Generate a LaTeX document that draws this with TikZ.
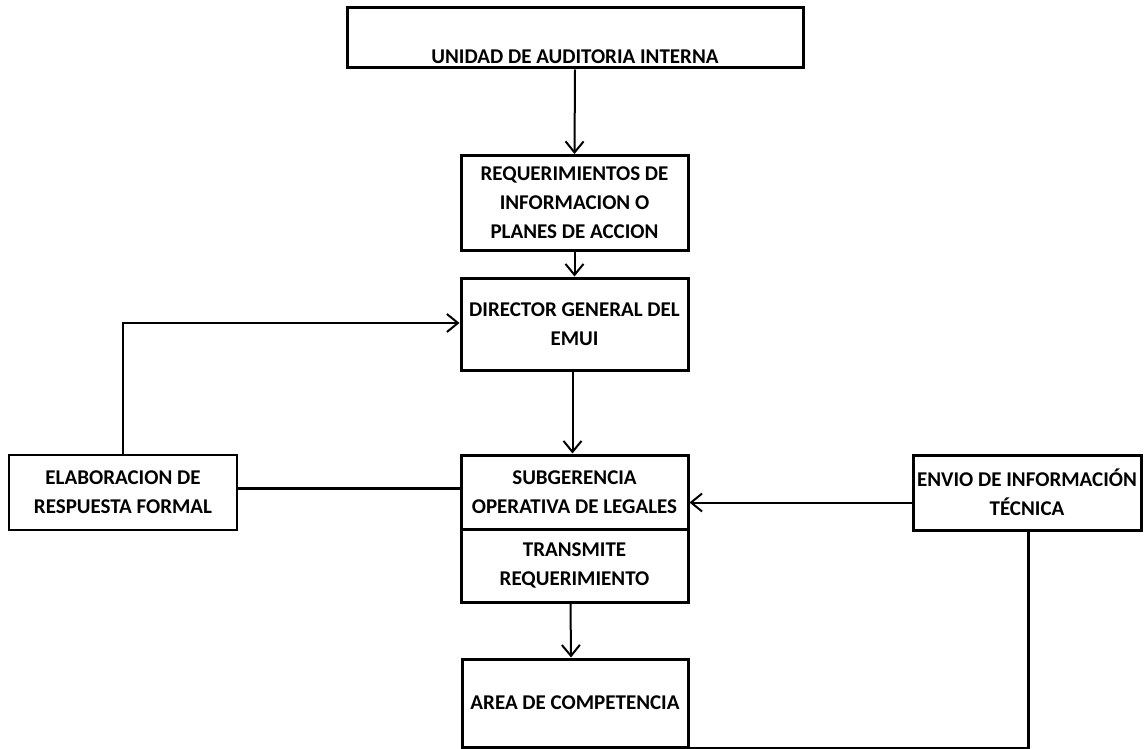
\documentclass[tikz,border=0pt]{standalone}
\usepackage{fontspec}
\setmainfont{Carlito}
\usetikzlibrary{arrows.meta,calc}

\tikzset{
  box/.style={draw=black, line width=3pt, rectangle, fill=white, align=center,
    inner sep=0pt, font=\fontsize{21}{29}\selectfont\bfseries},
  thinbox/.style={box, line width=2pt},
  flow/.style={draw=black, line width=2pt,
    -{Straight Barb[length=11pt,width=18pt,line width=2pt]}},
  link/.style={draw=black, line width=3.5pt},
}

\begin{document}
\begin{tikzpicture}[x=1pt,y=-1pt]
  \useasboundingbox[fill=white] (0,0) rectangle (1146,749);

  % top unit, caption sitting near the lower edge
  \node[box, minimum width=456pt, minimum height=60pt,
        text height=51pt, text depth=0pt] (unidad) at (575,38)
        {UNIDAD DE AUDITORIA INTERNA};

  % central column
  \node[box, minimum width=227pt, minimum height=95pt] (req) at (574.5,203)
        {REQUERIMIENTOS DE\\INFORMACION O\\PLANES DE ACCION};
  \node[box, minimum width=227pt, minimum height=92pt] (dir) at (574.5,324)
        {DIRECTOR GENERAL DEL\\EMUI};
  \node[box, minimum width=227pt, minimum height=74pt] (sub) at (574.5,492)
        {SUBGERENCIA\\OPERATIVA DE LEGALES};
  \node[box, minimum width=227pt, minimum height=73pt] (trans) at (574.5,565.5)
        {TRANSMITE\\REQUERIMIENTO};
  \node[box, minimum width=226pt, minimum height=88pt] (area) at (575,703)
        {AREA DE COMPETENCIA};

  % side boxes
  \node[thinbox, minimum width=228pt, minimum height=75pt] (elab) at (123,492.5)
        {ELABORACION DE\\RESPUESTA FORMAL};
  \node[box, minimum width=228pt, minimum height=75pt] (envio) at (1027,492.5)
        {ENVIO DE INFORMACIÓN\\TÉCNICA};

  % downward flow
  \draw[flow] (unidad.south) -- (req.north);
  \draw[flow] (req.south) -- (dir.north);
  \draw[flow] ([xshift=-2pt]dir.south) -- ([xshift=-2pt]sub.north);
  \draw[flow] ([xshift=-4pt]trans.south) -- ([xshift=-4pt]area.north);

  % formal reply returned to the director
  \draw[flow] (elab.north) |- ([yshift=1pt]dir.west);
  \draw[link] ([yshift=4pt]elab.east) -- ([yshift=4pt]elab.east -| sub.west);

  % technical information coming in from the right
  \draw[flow] ([yshift=-10pt]envio.west) -- ([yshift=-10pt]envio.west -| sub.east);
  \draw[draw=black, line width=3pt] ([xshift=1pt]envio.south) |- (area.south east);
\end{tikzpicture}
\end{document}
